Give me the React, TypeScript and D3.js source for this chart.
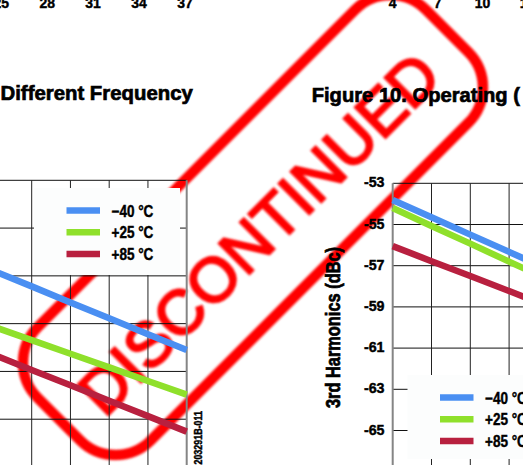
import React from "react";
import * as d3 from "d3";

// upper figures (only their x tick labels show at the top edge)
const upperLeftTicks = [25, 28, 31, 34, 37];
const upperRightTicks = [4, 7, 10, 13];

const seriesNames = ["\u221240 \u00b0C", "+25 \u00b0C", "+85 \u00b0C"];
const seriesColors = ["#4a8ff2", "#8fe02b", "#b8203f"];

// figure 9 (left, cut off by the page edge)
const fig9Steps = [0, 1, 2, 3, 4, 5, 6];
const fig9Cold = [-56.11, -56.78, -57.44, -58.11, -58.77, -59.44, -60.1];
const fig9Room = [-58.55, -59.12, -59.69, -60.26, -60.83, -61.4, -61.97];
const fig9Hot = [-59.65, -60.29, -60.94, -61.58, -62.23, -62.87, -63.52];
const fig9YTicks = [-53, -55, -57, -59, -61, -63, -65];

// figure 10 (right)
const fig10Steps = [0, 1, 2, 3, 4];
const fig10Cold = [-53.81, -54.65, -55.49, -56.33, -57.17];
const fig10Room = [-54.2, -55.07, -55.93, -56.8, -57.67];
const fig10Hot = [-56.05, -56.78, -57.5, -58.23, -58.96];
const fig10YTicks = [-53, -55, -57, -59, -61, -63, -65, -67];

const FONT = "'Liberation Sans', Arial, sans-serif";

const W = 523;
const H = 465;

// condensed, heavy text helper
const CText = ({ x, y, sx = 1, rot = 0, size, anchor = "start", children }: any) => (
  <text
    transform={`translate(${x},${y}) rotate(${rot}) scale(${sx},1)`}
    textAnchor={anchor}
    fontFamily={FONT}
    fontWeight="bold"
    fontSize={size}
    fill="#000"
    stroke="#000"
    strokeWidth={size > 18 ? 0.7 : 0.45}
  >
    {children}
  </text>
);

const Legend = ({ x, y, w, h }: any) => (
  <g>
    <rect x={x} y={y} width={w} height={h} fill="#fcfdfd" />
    {seriesNames.map((name, i) => {
      const ry = y + 22.5 + i * 21.7;
      return (
        <g key={name}>
          <line x1={x + 32.5} x2={x + 66} y1={ry} y2={ry} stroke={seriesColors[i]} strokeWidth={6.5} />
          <CText x={x + 77.5} y={ry + 6} sx={0.82} size={16.5}>
            {name}
          </CText>
        </g>
      );
    })}
  </g>
);

export default function App() {
  // fig 9 scales
  const x9 = d3.scaleLinear().domain([0, 6]).range([-45.8, 186.7]);
  const y9 = d3.scaleLinear().domain([-53, -65]).range([180.3, 467]);
  // fig 10 scales
  const x10 = d3.scaleLinear().domain([0, 6]).range([392.7, 625.5]);
  const y10 = d3.scaleLinear().domain([-53, -67]).range([183.3, 471.7]);

  const up9 = d3.scaleLinear().domain([25, 37]).range([1.2, 185]);
  const up10 = d3.scaleLinear().domain([4, 10]).range([392.5, 482.5]);

  const line9 = d3
    .line<number>()
    .x((_, i) => x9(fig9Steps[i]))
    .y((d) => y9(d));
  const line10 = d3
    .line<number>()
    .x((_, i) => x10(fig10Steps[i]))
    .y((d) => y10(d));

  const fig9Series = [fig9Cold, fig9Room, fig9Hot];
  const fig10Series = [fig10Cold, fig10Room, fig10Hot];

  const cx = 253;
  const cy = 225;

  return (
    <svg
      width={W}
      height={H}
      style={{ position: "absolute", left: 0, top: 0, background: "#fff" }}
    >
      <defs>
        <filter id="soft" x="-10%" y="-10%" width="120%" height="120%">
          <feGaussianBlur stdDeviation="0.8" />
        </filter>
      </defs>

      {/* DISCONTINUED stamp */}
      <g transform={`translate(${cx},${cy}) rotate(-45)`} filter="url(#soft)">
        <rect x={-274.5} y={-80} width={549} height={160} rx={50} fill="none" stroke="#ff0000" strokeWidth={10.5} />
        <text
          x={-2}
          y={32}
          textAnchor="middle"
          fontFamily={FONT}
          fontSize={63}
          fill="#ff0000"
          stroke="#ff0000"
          strokeWidth={2.4}
        >
          DISCONTINUED
        </text>
      </g>

      {/* upper charts x labels */}
      {upperLeftTicks.map((t) => (
        <CText key={"ul" + t} x={up9(t)} y={8} sx={0.9} size={15.5} anchor="middle">
          {t}
        </CText>
      ))}
      {upperRightTicks.map((t) => (
        <CText key={"ur" + t} x={up10(t)} y={8} sx={0.9} size={15.5} anchor="middle">
          {t}
        </CText>
      ))}

      {/* titles */}
      <CText x={0.5} y={100} sx={0.97} size={21}>
        Different Frequency
      </CText>
      <CText x={311.7} y={102} sx={0.96} size={21}>
        Figure 10. Operating (
      </CText>

      {/* ---- figure 9 grid ---- */}
      <g>
        {fig9YTicks.map((t) => (
          <line key={t} x1={x9(0)} x2={x9(6)} y1={y9(t)} y2={y9(t)} stroke="#111" strokeWidth={1} />
        ))}
        {fig9Steps.slice(0, -1).map((s) => (
          <line key={s} x1={x9(s)} x2={x9(s)} y1={y9(-53)} y2={y9(-65)} stroke="#222" strokeWidth={1} />
        ))}
        <line x1={x9(6)} x2={x9(6)} y1={y9(-53)} y2={y9(-65)} stroke="#858585" strokeWidth={2} />
      </g>
      <Legend x={34} y={188} w={146} h={87} />
      {fig9Series.map((s, i) => (
        <path key={i} d={line9(s) || ""} fill="none" stroke={seriesColors[i]} strokeWidth={6.5} />
      ))}
      <CText x={201.5} y={411} rot={-90} sx={0.85} size={10.5} anchor="end">
        203291B-011
      </CText>

      {/* ---- figure 10 ---- */}
      <g>
        {fig10YTicks.map((t) => (
          <line key={t} x1={x10(0)} x2={x10(6)} y1={y10(t)} y2={y10(t)} stroke="#111" strokeWidth={1} />
        ))}
        {[1, 2, 3, 4, 5, 6].map((s) => (
          <line key={s} x1={x10(s)} x2={x10(s)} y1={y10(-53)} y2={y10(-67)} stroke="#222" strokeWidth={1} />
        ))}
        <line x1={x10(0)} x2={x10(0)} y1={y10(-53)} y2={y10(-67)} stroke="#858585" strokeWidth={2} />
        {fig10YTicks.map((t) => (
          <CText key={"l" + t} x={384.5} y={y10(t) + 4} sx={0.92} size={15.5} anchor="end">
            {t}
          </CText>
        ))}
        <CText x={340} y={327.5} rot={-90} sx={0.78} size={21} anchor="middle">
          3rd Harmonics (dBc)
        </CText>
      </g>
      <Legend x={407.5} y={375} w={140} h={84} />
      {fig10Series.map((s, i) => (
        <path key={i} d={line10(s) || ""} fill="none" stroke={seriesColors[i]} strokeWidth={6.5} />
      ))}
    </svg>
  );
}
